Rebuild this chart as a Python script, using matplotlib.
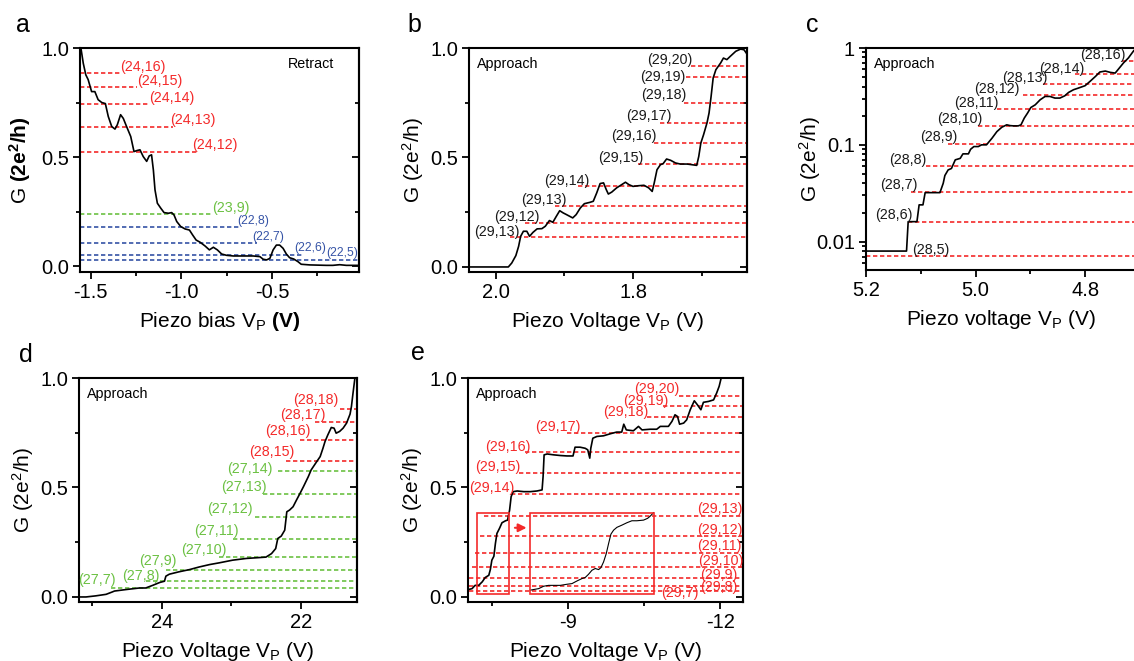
import matplotlib
matplotlib.use("Agg")
import matplotlib.pyplot as plt
import numpy as np
from matplotlib.patches import Rectangle, FancyArrowPatch
from matplotlib.ticker import LogLocator, NullFormatter, FixedLocator

plt.rcParams['font.family'] = ['Liberation Sans', 'DejaVu Sans']
plt.rcParams['mathtext.fontset'] = 'custom'
plt.rcParams['mathtext.rm'] = 'Liberation Sans'
plt.rcParams['mathtext.it'] = 'Liberation Sans:italic'
plt.rcParams['mathtext.bf'] = 'Liberation Sans:bold'
plt.rcParams['axes.unicode_minus'] = False

# ---------------- DATA ----------------
# Panel a (Retract)
a_x = [-1.555, -1.542, -1.528, -1.515, -1.496, -1.478, -1.46, -1.44, -1.42, -1.404, -1.385, -1.367,
       -1.354, -1.336, -1.321, -1.303, -1.28, -1.262, -1.244, -1.229, -1.211, -1.192, -1.178, -1.165,
       -1.155, -1.146, -1.133, -1.114, -1.096, -1.072, -1.054, -1.041, -1.026, -1.004, -0.98, -0.956,
       -0.938, -0.919, -0.897, -0.87, -0.846, -0.824, -0.802, -0.778, -0.751, -0.714, -0.659, -0.604,
       -0.567, -0.549, -0.53, -0.512, -0.494, -0.476, -0.458, -0.439, -0.421, -0.403, -0.38, -0.357,
       -0.339, -0.292, -0.2, -0.164, -0.127, -0.09, -0.022]
a_g = [1.0, 0.93, 0.877, 0.855, 0.80, 0.80, 0.763, 0.75, 0.745, 0.686, 0.64, 0.628,
       0.648, 0.694, 0.677, 0.64, 0.594, 0.525, 0.53, 0.533, 0.502, 0.48, 0.505, 0.51,
       0.44, 0.349, 0.288, 0.265, 0.245, 0.242, 0.245, 0.234, 0.204, 0.181, 0.17, 0.165,
       0.142, 0.119, 0.109, 0.092, 0.074, 0.086, 0.074, 0.055, 0.049, 0.046, 0.046, 0.046,
       0.043, 0.031, 0.028, 0.035, 0.074, 0.096, 0.096, 0.081, 0.055, 0.038, 0.032, 0.02,
       0.008, 0.005, 0.003, 0.003, 0.006, 0.003, 0.003]
a_labels = ['(24,16)', '(24,15)', '(24,14)', '(24,13)', '(24,12)', '(23,9)', '(22,8)', '(22,7)', '(22,6)', '(22,5)']
a_levels = [0.885, 0.821, 0.741, 0.636, 0.521, 0.237, 0.181, 0.104, 0.051, 0.026]
a_line_end = [-1.33, -1.248, -1.174, -1.045, -0.916, -0.833, -0.675, -0.583, -0.334, -0.02]
a_colors = ['red'] * 5 + ['green'] + ['blue'] * 4
a_label_x = [-1.339, -1.247, -1.177, -1.063, -0.943, -0.832, -0.69, -0.607, -0.376, -0.199]
a_label_y = [0.911, 0.85, 0.77, 0.668, 0.553, 0.265, 0.207, 0.132, 0.081, 0.058]

# Panel b (Approach)
b_x = [2.0395, 1.982, 1.977, 1.971, 1.967, 1.964, 1.96, 1.955, 1.951, 1.946, 1.94, 1.933, 1.928,
       1.922, 1.917, 1.912, 1.907, 1.902, 1.897, 1.888, 1.883, 1.877, 1.871, 1.863, 1.858, 1.853,
       1.848, 1.843, 1.839, 1.836, 1.831, 1.824, 1.819, 1.811, 1.806, 1.8, 1.792, 1.784, 1.777,
       1.772, 1.769, 1.765, 1.76, 1.756, 1.751, 1.745, 1.738, 1.731, 1.721, 1.714, 1.707, 1.704,
       1.701, 1.697, 1.692, 1.689, 1.686, 1.683, 1.679, 1.672, 1.668, 1.663, 1.658, 1.65, 1.643,
       1.638, 1.634]
b_g = [0.0, 0.0, 0.018, 0.052, 0.094, 0.14, 0.163, 0.163, 0.14, 0.158, 0.174, 0.175, 0.186,
       0.212, 0.204, 0.231, 0.257, 0.247, 0.239, 0.224, 0.239, 0.269, 0.289, 0.295, 0.3, 0.338,
       0.381, 0.384, 0.353, 0.333, 0.342, 0.361, 0.371, 0.387, 0.376, 0.368, 0.371, 0.373, 0.361,
       0.345, 0.384, 0.444, 0.467, 0.472, 0.493, 0.487, 0.475, 0.47, 0.47, 0.467, 0.464, 0.505,
       0.566, 0.604, 0.658, 0.703, 0.779, 0.863, 0.901, 0.932, 0.954, 0.947, 0.962, 0.985, 0.995,
       0.992, 0.974]
b_labels = ['(29,20)', '(29,19)', '(29,18)', '(29,17)', '(29,16)', '(29,15)', '(29,14)', '(29,13)', '(29,12)', '(29,13)']
b_levels = [0.916, 0.866, 0.749, 0.658, 0.566, 0.469, 0.371, 0.277, 0.201, 0.135]
b_line_start = [1.716, 1.723, 1.726, 1.76, 1.77, 1.792, 1.88, 1.914, 1.958, 1.98]
b_label_x = [1.7137, 1.7234, 1.722, 1.743, 1.765, 1.784, 1.863, 1.897, 1.937, 1.966]
b_label_y = [0.944, 0.868, 0.784, 0.691, 0.6, 0.499, 0.393, 0.306, 0.228, 0.16]

# Panel c (Approach, log scale)
c_x = [5.2, 5.126, 5.123, 5.117, 5.107, 5.103, 5.096, 5.092, 5.083, 5.065, 5.059, 5.056, 5.05,
       5.044, 5.037, 5.028, 5.023, 5.013, 5.009, 5.003, 4.995, 4.989, 4.98, 4.97, 4.961, 4.952,
       4.943, 4.937, 4.931, 4.922, 4.917, 4.911, 4.905, 4.899, 4.891, 4.882, 4.873, 4.864, 4.855,
       4.846, 4.837, 4.83, 4.821, 4.812, 4.8, 4.791, 4.781, 4.773, 4.763, 4.754, 4.745, 4.739,
       4.73, 4.721, 4.711]
c_g = [0.008, 0.008, 0.0161, 0.0161, 0.0161, 0.024, 0.024, 0.0321, 0.0321, 0.0321, 0.0401, 0.0482,
       0.0551, 0.057, 0.07, 0.0725, 0.0807, 0.0807, 0.090, 0.096, 0.096, 0.1, 0.1, 0.117, 0.137,
       0.152, 0.161, 0.158, 0.157, 0.157, 0.161, 0.189, 0.213, 0.243, 0.259, 0.292, 0.316, 0.316,
       0.304, 0.304, 0.321, 0.348, 0.371, 0.386, 0.408, 0.452, 0.509, 0.565, 0.578, 0.56, 0.551,
       0.606, 0.70, 0.788, 0.94]
c_labels = ['(28,16)', '(28,14)', '(28,13)', '(28,12)', '(28,11)', '(28,10)', '(28,9)', '(28,8)', '(28,7)', '(28,6)', '(28,5)']
c_levels = [0.728, 0.538, 0.428, 0.324, 0.234, 0.158, 0.1016, 0.0607, 0.0329, 0.0161, 0.0071]
c_line_start = [4.733, 4.818, 4.876, 4.913, 4.961, 4.995, 5.05, 5.09, 5.117, 5.123, 5.2]
c_label_x = [4.809, 4.883, 4.952, 5.002, 5.039, 5.071, 5.102, 5.157, 5.174, 5.184, 5.115]
c_label_y = [0.839, 0.611, 0.49, 0.377, 0.268, 0.186, 0.12, 0.07, 0.0386, 0.0187, 0.00826]

# Panel d (Approach)
d_x = [25.2, 25.09, 24.95, 24.8, 24.71, 24.68, 24.51, 24.32, 24.23, 24.13, 24.03, 23.96, 23.94,
       23.89, 23.75, 23.6, 23.46, 23.31, 23.17, 22.98, 22.78, 22.59, 22.5, 22.42, 22.36, 22.33,
       22.28, 22.23, 22.2, 22.16, 22.11, 22.06, 22.01, 21.96, 21.89, 21.85, 21.77, 21.72, 21.68,
       21.65, 21.61, 21.56, 21.52, 21.49, 21.44, 21.39, 21.34, 21.29, 21.27, 21.25, 21.22]
d_g = [0.0, 0.0, 0.005, 0.012, 0.023, 0.027, 0.034, 0.041, 0.041, 0.053, 0.066, 0.072, 0.095,
       0.104, 0.115, 0.125, 0.137, 0.148, 0.156, 0.168, 0.176, 0.18, 0.182, 0.198, 0.221, 0.267,
       0.278, 0.305, 0.389, 0.397, 0.412, 0.443, 0.473, 0.504, 0.55, 0.58, 0.618, 0.641, 0.679,
       0.71, 0.74, 0.774, 0.771, 0.748, 0.756, 0.771, 0.794, 0.835, 0.87, 0.924, 1.0]
d_labels = ['(28,18)', '(28,17)', '(28,16)', '(28,15)', '(27,14)', '(27,13)', '(27,12)', '(27,11)', '(27,10)', '(27,9)', '(27,8)', '(27,7)']
d_levels = [0.86, 0.797, 0.718, 0.623, 0.577, 0.47, 0.366, 0.267, 0.183, 0.122, 0.073, 0.041]
d_line_start = [21.44, 21.8, 22.01, 22.21, 22.33, 22.54, 22.66, 22.98, 23.17, 23.94, 24.23, 24.73]
d_colors = ['red'] * 4 + ['green'] * 8
d_label_x = [22.11, 22.30, 22.51, 22.74, 23.06, 23.14, 23.34, 23.53, 23.72, 24.32, 24.57, 25.2]
d_label_y = [0.898, 0.832, 0.756, 0.66, 0.583, 0.504, 0.402, 0.302, 0.214, 0.163, 0.098, 0.078]

# Panel e (Approach)
e_x = [-7.04, -7.11, -7.17, -7.24, -7.31, -7.37, -7.44, -7.47, -7.5, -7.54, -7.57, -7.6, -7.65,
       -7.7, -7.77, -7.81, -7.85, -7.88, -7.92, -8.0, -8.13, -8.26, -8.39, -8.49, -8.51, -8.53,
       -8.59, -8.72, -8.85, -8.98, -9.1, -9.14, -9.24, -9.34, -9.39, -9.43, -9.45, -9.49, -9.57,
       -9.7, -9.83, -9.96, -10.06, -10.1, -10.15, -10.29, -10.39, -10.46, -10.62, -10.75, -10.82,
       -10.92, -10.98, -11.05, -11.11, -11.16, -11.2, -11.28, -11.34, -11.41, -11.49, -11.55,
       -11.62, -11.67, -11.77, -11.87, -11.93, -11.98, -12.02]
e_g = [0.034, 0.038, 0.053, 0.053, 0.069, 0.089, 0.099, 0.125, 0.168, 0.186, 0.244, 0.29, 0.313,
       0.339, 0.348, 0.351, 0.397, 0.458, 0.481, 0.484, 0.481, 0.481, 0.484, 0.489, 0.55, 0.649,
       0.653, 0.649, 0.646, 0.644, 0.644, 0.684, 0.684, 0.679, 0.672, 0.634, 0.679, 0.725, 0.733,
       0.736, 0.745, 0.753, 0.753, 0.789, 0.763, 0.759, 0.779, 0.763, 0.766, 0.766, 0.779,
       0.779, 0.779, 0.802, 0.832, 0.824, 0.789, 0.794, 0.809, 0.855, 0.896, 0.878,
       0.855, 0.889, 0.893, 0.9, 0.931, 0.962, 1.0]
e_labels = ['(29,20)', '(29,19)', '(29,18)', '(29,17)', '(29,16)', '(29,15)', '(29,14)', '(29,13)', '(29,12)', '(29,11)', '(29,10)', '(29,9)', '(29,8)', '(29,7)']
e_levels = [0.919, 0.87, 0.82, 0.751, 0.661, 0.568, 0.47, 0.371, 0.278, 0.202, 0.137, 0.087, 0.052, 0.027]
e_line_start = [-11.18, -10.88, -10.56, -8.98, -8.16, -8.03, -7.88, -7.34, -7.27, -7.17, -7.11, -7.04, -7.04, -7.04]
e_label_x = [-10.313, -10.096, -9.702, -8.344, -7.359, -7.175, -7.043, -11.54, -11.54, -11.54, -11.57, -11.61, -11.61, -10.83]
e_label_y = [0.948, 0.896, 0.844, 0.777, 0.687, 0.594, 0.496, 0.403, 0.307, 0.231, 0.163, 0.099, 0.046, 0.017]
# zoomed inset curve (magnified start of panel e trace)
e_inset_x = [-8.258, -8.324, -8.422, -8.521, -8.619, -8.718, -8.849, -8.98, -9.079, -9.177, -9.276,
             -9.341, -9.407, -9.473, -9.538, -9.604, -9.65, -9.702, -9.755, -9.801, -9.847, -9.899,
             -9.965, -10.063, -10.162, -10.26, -10.359, -10.49, -10.569, -10.621, -10.687]
e_inset_g = [0.031, 0.034, 0.038, 0.049, 0.053, 0.053, 0.053, 0.058, 0.061, 0.073, 0.084, 0.089,
             0.104, 0.122, 0.13, 0.125, 0.134, 0.16, 0.198, 0.244, 0.287, 0.305, 0.318, 0.328,
             0.339, 0.348, 0.348, 0.351, 0.359, 0.369, 0.385]

# ---------------- STYLE ----------------
COL = {'red': '#f42a2a', 'green': '#6cc143', 'blue': '#3553a6', 'black': '#1a1a1a'}
W, H = 1134, 661
TICK_FS = 14.5
LABEL_FS = 15
ANN_FS = 10.3
DASH = (2.6, 1.6)
YLAB = 'G (2e$^\\mathregular{2}$/h)'

fig = plt.figure(figsize=(W / 100, H / 100), dpi=100)


def px_axes(left, top, right, bottom):
    return fig.add_axes([left / W, 1 - bottom / H, (right - left) / W, (bottom - top) / H])


def style_axes(ax, right_ticks=True):
    for s in ax.spines.values():
        s.set_linewidth(1.5)
    ax.tick_params(which='both', direction='out', width=1.3, labelsize=TICK_FS, pad=3,
                   top=False, right=False)
    ax.tick_params(which='major', length=5)
    ax.tick_params(which='minor', length=3)
    if right_ticks:
        sec = ax.secondary_yaxis('right')
        sec.set_yticks(ax.get_yticks())
        sec.yaxis.set_minor_locator(FixedLocator(ax.yaxis.get_minorticklocs()))
        sec.tick_params(which='both', direction='in', width=1.3, labelright=False)
        sec.tick_params(which='major', length=5)
        sec.tick_params(which='minor', length=3)
        sec.spines['right'].set_linewidth(1.5)


def lin_yaxis(ax, ylim):
    ax.set_ylim(*ylim)
    ax.set_yticks([0.0, 0.5, 1.0])
    ax.set_yticklabels(['0.0', '0.5', '1.0'])
    ax.set_yticks([0.25, 0.75], minor=True)


def labels(ax, xlabel, ylabel=YLAB, ylx=-0.155):
    ax.set_xlabel(xlabel, fontsize=LABEL_FS)
    ax.set_ylabel(ylabel, fontsize=LABEL_FS)
    ax.xaxis.set_label_coords(0.5, -0.17)
    ax.yaxis.set_label_coords(ylx, 0.5)


# ---- Panel a ----
ax = px_axes(80, 48, 359, 272)
ax.set_xlim(-1.56, -0.02)
lin_yaxis(ax, (-0.0275, 1.0))
ax.set_xticks([-1.5, -1.0, -0.5])
ax.set_xticklabels(['-1.5', '-1.0', '-0.5'])
ax.set_xticks([-1.25, -0.75, -0.25], minor=True)
for lev, end, c in zip(a_levels, a_line_end, a_colors):
    ax.hlines(lev, ax.get_xlim()[0], end, colors=COL[c], linestyles=(0, DASH), lw=1.2, zorder=2)
for lab, lx, ly, c in zip(a_labels, a_label_x, a_label_y, a_colors):
    ax.text(lx, ly, lab, color=COL[c], fontsize=(8.8 if c == 'blue' else ANN_FS),
            ha='left', va='center', zorder=4)
ax.plot(a_x, a_g, color='black', lw=1.2, zorder=3)
ax.text(0.91, 0.93, 'Retract', transform=ax.transAxes, fontsize=ANN_FS, ha='right', va='center')
labels(ax, 'Piezo bias V$_\\mathregular{P}$ $\\mathbf{(V)}$',
       ylabel='G $\\mathbf{(2e^{2}/h)}$', ylx=-0.17)
style_axes(ax)

# ---- Panel b ----
ax = px_axes(469, 48, 747, 272)
ax.set_xlim(2.0394, 1.6336)
lin_yaxis(ax, (-0.023, 1.0))
ax.set_xticks([2.0, 1.8])
ax.set_xticklabels(['2.0', '1.8'])
ax.set_xticks([1.9, 1.7], minor=True)
for lev, st in zip(b_levels, b_line_start):
    ax.hlines(lev, st, ax.get_xlim()[1], colors=COL['red'], linestyles=(0, DASH), lw=1.2, zorder=2)
for lab, lx, ly in zip(b_labels, b_label_x, b_label_y):
    ax.text(lx, ly, lab, color=COL['black'], fontsize=ANN_FS, ha='right', va='center', zorder=4)
ax.plot(b_x, b_g, color='black', lw=1.2, zorder=3)
ax.text(0.03, 0.93, 'Approach', transform=ax.transAxes, fontsize=ANN_FS, ha='left', va='center')
labels(ax, 'Piezo Voltage V$_\\mathregular{P}$ (V)')
style_axes(ax)

# ---- Panel c ----
ax = px_axes(866, 48, 1136, 270)
ax.set_yscale('log')
ax.set_xlim(5.2, 4.707)
ax.set_ylim(0.0051, 1.0)
ax.set_yticks([0.01, 0.1, 1])
ax.set_yticklabels(['0.01', '0.1', '1'])
ax.yaxis.set_minor_locator(LogLocator(base=10, subs=np.arange(2, 10)))
ax.yaxis.set_minor_formatter(NullFormatter())
ax.set_xticks([5.2, 5.0, 4.8])
ax.set_xticklabels(['5.2', '5.0', '4.8'])
ax.set_xticks([5.1, 4.9], minor=True)
for lev, st in zip(c_levels, c_line_start):
    ax.hlines(lev, st, ax.get_xlim()[1], colors=COL['red'], linestyles=(0, DASH), lw=1.2, zorder=2)
for lab, lx, ly in zip(c_labels, c_label_x, c_label_y):
    ax.text(lx, ly, lab, color=COL['black'], fontsize=ANN_FS, ha='left', va='center', zorder=4)
ax.plot(c_x, c_g, color='black', lw=1.2, zorder=3)
ax.text(0.03, 0.93, 'Approach', transform=ax.transAxes, fontsize=ANN_FS, ha='left', va='center')
labels(ax, 'Piezo voltage V$_\\mathregular{P}$ (V)', ylx=-0.16)
style_axes(ax, right_ticks=False)

# ---- Panel d ----
ax = px_axes(79, 378, 357, 602)
ax.set_xlim(25.19, 21.19)
lin_yaxis(ax, (-0.023, 1.0))
ax.set_xticks([24, 22])
ax.set_xticklabels(['24', '22'])
ax.set_xticks([25, 23], minor=True)
for lev, st, c in zip(d_levels, d_line_start, d_colors):
    ax.hlines(lev, st, ax.get_xlim()[1], colors=COL[c], linestyles=(0, DASH), lw=1.2, zorder=2)
for lab, lx, ly, c in zip(d_labels, d_label_x, d_label_y, d_colors):
    ax.text(lx, ly, lab, color=COL[c], fontsize=ANN_FS, ha='left', va='center', zorder=4)
ax.plot(d_x, d_g, color='black', lw=1.2, zorder=3)
ax.text(0.03, 0.93, 'Approach', transform=ax.transAxes, fontsize=ANN_FS, ha='left', va='center')
labels(ax, 'Piezo Voltage V$_\\mathregular{P}$ (V)')
style_axes(ax)

# ---- Panel e ----
ax = px_axes(468, 378, 743, 602)
ax.set_xlim(-7.03, -12.45)
lin_yaxis(ax, (-0.023, 1.0))
ax.set_xticks([-9, -12])
ax.set_xticklabels(['-9', '-12'])
ax.set_xticks([-7.5, -10.5], minor=True)
for lev, st in zip(e_levels, e_line_start):
    ax.hlines(lev, st, ax.get_xlim()[1], colors=COL['red'], linestyles=(0, DASH), lw=1.2, zorder=2)
for lab, lx, ly in zip(e_labels, e_label_x, e_label_y):
    ax.text(lx, ly, lab, color=COL['red'], fontsize=ANN_FS, ha='left', va='center', zorder=4)
ax.plot(e_x, e_g, color='black', lw=1.2, zorder=3)
ax.plot(e_inset_x, e_inset_g, color='black', lw=0.8, zorder=3)
ax.add_patch(Rectangle((-7.21, 0.012), -0.62, 0.373, fill=False, ec=COL['red'], lw=1.2, zorder=3))
ax.add_patch(Rectangle((-8.25, 0.012), -2.45, 0.373, fill=False, ec=COL['red'], lw=1.2, zorder=3))
ax.add_patch(FancyArrowPatch((-7.9, 0.316), (-8.24, 0.316), arrowstyle='-|>', mutation_scale=12,
                             color=COL['red'], lw=1.5, zorder=4))
ax.text(0.03, 0.93, 'Approach', transform=ax.transAxes, fontsize=ANN_FS, ha='left', va='center')
labels(ax, 'Piezo Voltage V$_\\mathregular{P}$ (V)')
style_axes(ax)

# panel letters
for letter, x, y in [('a', 16, 32), ('b', 407, 32), ('c', 806, 32), ('d', 19, 362), ('e', 411, 360)]:
    fig.text(x / W, 1 - y / H, letter, fontsize=18, ha='left', va='baseline')

fig.savefig('out.png', dpi=100)
